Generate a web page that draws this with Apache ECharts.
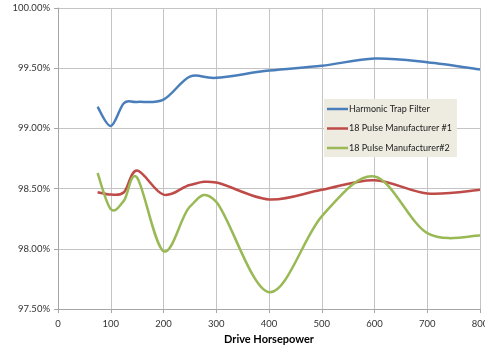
<!DOCTYPE html>
<html>
<head>
<meta charset="utf-8">
<script src="https://cdn.jsdelivr.net/npm/echarts@6/dist/echarts.min.js"></script>
<style>
  html, body { margin: 0; padding: 0; background: #fff; }
  #chart { width: 485px; height: 350px; }
</style>
</head>
<body>
<div id="chart"></div>
<script>
// Drive horsepower sample points
const horsepower = [75, 100, 125, 150, 200, 250, 300, 400, 500, 600, 700, 800];

// Efficiency (%) per series
const harmonicTrap = [99.18, 99.02, 99.21, 99.22, 99.24, 99.43, 99.42, 99.48, 99.52, 99.58, 99.55, 99.49];
const pulse18No1   = [98.47, 98.45, 98.47, 98.65, 98.45, 98.53, 98.55, 98.41, 98.49, 98.57, 98.46, 98.49];
const pulse18No2   = [98.63, 98.33, 98.40, 98.59, 97.98, 98.35, 98.39, 97.64, 98.27, 98.60, 98.13, 98.11];

const seriesNames = ['Harmonic Trap Filter', '18 Pulse Manufacturer #1', '18 Pulse Manufacturer#2'];
const seriesColors = ['#4A7EBB', '#BE4B48', '#98B954'];
const seriesValues = [harmonicTrap, pulse18No1, pulse18No2];

const font = 'Lato, sans-serif';
const chart = echarts.init(document.getElementById('chart'));

// Smoothed line through the data points (cardinal spline, tension 1/6),
// drawn in pixel space from the axis-converted coordinates.
function smoothPath(pts) {
  let d = 'M' + pts[0][0] + ',' + pts[0][1];
  for (let i = 0; i < pts.length - 1; i++) {
    const p0 = pts[Math.max(i - 1, 0)];
    const p1 = pts[i];
    const p2 = pts[i + 1];
    const p3 = pts[Math.min(i + 2, pts.length - 1)];
    const c1x = p1[0] + (p2[0] - p0[0]) / 6;
    const c1y = p1[1] + (p2[1] - p0[1]) / 6;
    const c2x = p2[0] - (p3[0] - p1[0]) / 6;
    const c2y = p2[1] - (p3[1] - p1[1]) / 6;
    d += ' C' + c1x + ',' + c1y + ' ' + c2x + ',' + c2y + ' ' + p2[0] + ',' + p2[1];
  }
  return d;
}

function makeSeries(vals, i) {
  const data = horsepower.map((x, j) => [x, vals[j]]);
  return {
    name: seriesNames[i],
    type: 'custom',
    color: seriesColors[i],
    itemStyle: { color: seriesColors[i] },
    encode: { x: 0, y: 1 },
    data: data,
    renderItem: function (params, api) {
      if (params.dataIndex !== 0) return null;
      const pts = data.map(d => api.coord(d));
      return {
        type: 'path',
        shape: { pathData: smoothPath(pts) },
        style: { fill: 'none', stroke: seriesColors[i], lineWidth: 2.5 }
      };
    }
  };
}

const axisGray = '#A6A6A6';
const gridGray = '#C4C4C4';

chart.setOption({
  animation: false,
  backgroundColor: '#ffffff',
  grid: { left: 58, right: 5, top: 8, bottom: 41, outerBoundsMode: 'none', containLabel: false },
  legend: {
    orient: 'vertical',
    left: 324,
    top: 99,
    padding: [4, 5, 3, 3],
    itemGap: 7.5,
    itemWidth: 21,
    itemHeight: 2.5,
    backgroundColor: '#EEECE1',
    icon: 'rect',
    textStyle: { fontFamily: font, fontSize: 9, lineHeight: 12, color: '#1a1a1a', padding: [0, 0, 0, -4] },
    data: seriesNames
  },
  xAxis: {
    type: 'value',
    min: 0,
    max: 800,
    interval: 100,
    name: 'Drive Horsepower',
    nameLocation: 'middle',
    nameGap: 25,
    nameTextStyle: { fontFamily: font, fontSize: 11, fontWeight: 'bold', color: '#000' },
    axisLine: { show: true, lineStyle: { color: axisGray } },
    axisTick: { show: true, length: 4, lineStyle: { color: axisGray } },
    axisLabel: { fontFamily: font, fontSize: 9.5, color: '#333', margin: 10 },
    splitLine: { show: true, lineStyle: { color: gridGray, width: 1 } }
  },
  yAxis: {
    type: 'value',
    min: 97.5,
    max: 100,
    interval: 0.5,
    name: 'Watts',
    nameLocation: 'middle',
    nameGap: 44,
    nameRotate: 90,
    nameTextStyle: { fontFamily: font, fontSize: 11, fontWeight: 'bold', color: '#000' },
    axisLine: { show: true, lineStyle: { color: axisGray } },
    axisTick: { show: true, length: 4, lineStyle: { color: axisGray } },
    axisLabel: {
      fontFamily: font, fontSize: 9.5, color: '#333', margin: 8,
      formatter: v => v.toFixed(2) + '%'
    },
    splitLine: { show: true, lineStyle: { color: gridGray, width: 1 } }
  },
  series: seriesValues.map(makeSeries)
});
</script>
</body>
</html>
